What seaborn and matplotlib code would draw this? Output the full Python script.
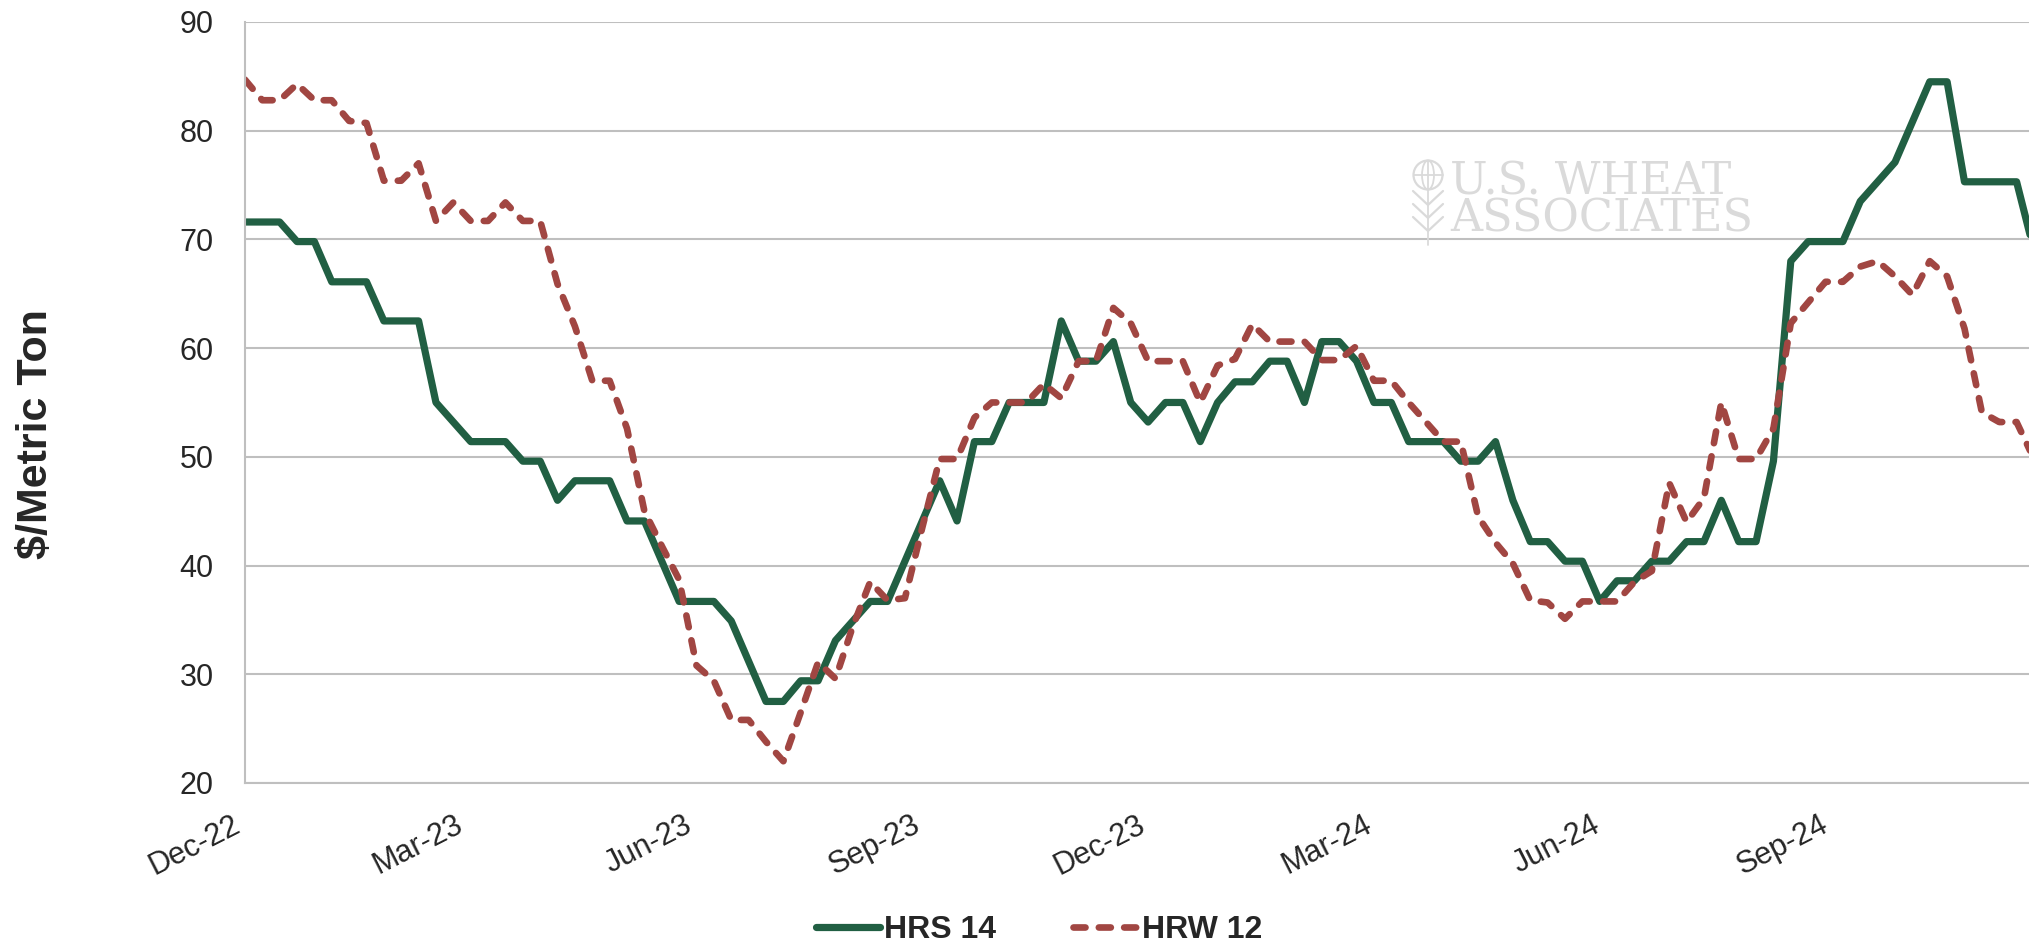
import pandas as pd
import matplotlib
matplotlib.use("Agg")
import matplotlib.pyplot as plt
import matplotlib.dates as mdates
from matplotlib.patches import Circle, Ellipse
from matplotlib.lines import Line2D
import seaborn as sns

# weekly basis values, first week = 1 Dec 2022
start_date = "2022-12-01"

hrs_14 = [71.6, 71.6, 71.6, 69.8, 69.8, 66.1, 66.1, 66.1, 62.5, 62.5,
          62.5, 55.0, 53.2, 51.4, 51.4, 51.4, 49.6, 49.6, 46.0, 47.8,
          47.8, 47.8, 44.1, 44.1, 40.4, 36.7, 36.7, 36.7, 34.9, 31.2,
          27.5, 27.5, 29.4, 29.4, 33.1, 34.9, 36.7, 36.7, 40.4, 44.1,
          47.8, 44.1, 51.4, 51.4, 55.0, 55.0, 55.0, 62.5, 58.8, 58.8,
          60.6, 55.0, 53.2, 55.0, 55.0, 51.4, 55.0, 56.9, 56.9, 58.8,
          58.8, 55.0, 60.6, 60.6, 58.8, 55.0, 55.0, 51.4, 51.4, 51.4,
          49.6, 49.6, 51.4, 46.0, 42.2, 42.2, 40.4, 40.4, 36.7, 38.6,
          38.6, 40.4, 40.4, 42.2, 42.2, 46.0, 42.2, 42.2, 49.6, 68.0,
          69.8, 69.8, 69.8, 73.5, 75.3, 77.1, 80.8, 84.5, 84.5, 75.3,
          75.3, 75.3, 75.3, 69.0]

hrw_12 = [84.7, 82.8, 82.8, 84.3, 82.8, 82.8, 80.9, 80.7, 75.4, 75.4,
          77.0, 71.7, 73.4, 71.7, 71.7, 73.4, 71.7, 71.7, 65.9, 62.0,
          57.0, 57.0, 52.6, 45.0, 41.8, 38.7, 30.8, 29.4, 25.8, 25.8,
          23.8, 22.0, 26.5, 31.1, 29.6, 34.4, 38.5, 36.8, 37.0, 43.5,
          49.8, 49.8, 53.6, 55.0, 55.0, 55.0, 56.7, 55.4, 58.8, 58.8,
          63.7, 62.3, 58.8, 58.8, 58.8, 55.0, 58.4, 59.0, 62.2, 60.6,
          60.6, 60.6, 58.9, 58.9, 60.2, 57.0, 57.0, 55.0, 53.2, 51.4,
          51.4, 44.5, 42.1, 40.2, 36.8, 36.6, 35.1, 36.7, 36.7, 36.7,
          38.5, 39.5, 47.6, 44.0, 46.2, 55.0, 49.8, 49.8, 52.6, 62.3,
          64.2, 66.1, 66.1, 67.5, 68.0, 66.6, 64.9, 68.0, 66.6, 61.8,
          54.1, 53.2, 53.2, 49.8]

series_names = ["HRS 14", "HRW 12"]
y_ticks = [20, 30, 40, 50, 60, 70, 80, 90]

weeks = pd.date_range(start_date, periods=len(hrs_14), freq="7D")
df = pd.DataFrame({"week": weeks, series_names[0]: hrs_14, series_names[1]: hrw_12})

green = "#215F43"
red = "#A14642"
grid_grey = "#BFBFBF"

sns.set_style("white")
plt.rcParams["font.family"] = ["Liberation Sans", "DejaVu Sans"]
narrow = ["Liberation Sans Narrow", "Liberation Sans", "DejaVu Sans"]

fig = plt.figure(figsize=(20.29, 9.47), dpi=100)
ax = fig.add_axes([0.1207, 0.1732, 0.8793, 0.8036])

sns.lineplot(data=df, x="week", y=series_names[0], ax=ax, color=green,
             linewidth=5.2, solid_joinstyle="round", solid_capstyle="round",
             label=series_names[0])
sns.lineplot(data=df, x="week", y=series_names[1], ax=ax, color=red,
             linewidth=4.8, linestyle=(0, (1.8, 2.0)), dash_capstyle="round",
             dash_joinstyle="round", label=series_names[1])

ax.set_ylim(20, 90)
ax.set_yticks(y_ticks)
ax.set_xlim(weeks[0], weeks[0] + pd.Timedelta(days=719))
ax.xaxis.set_major_locator(mdates.MonthLocator(bymonth=[3, 6, 9, 12]))
ax.xaxis.set_major_formatter(mdates.DateFormatter("%b-%y"))
ax.set_xlabel("")
ax.set_ylabel("")

ax.grid(axis="y", color=grid_grey, linewidth=1.5)
ax.grid(axis="x", visible=False)
ax.set_axisbelow(True)
for side in ["top", "right"]:
    ax.spines[side].set_visible(False)
for side in ["left", "bottom"]:
    ax.spines[side].set_color(grid_grey)
    ax.spines[side].set_linewidth(1.5)

ax.tick_params(axis="both", direction="out", length=7.5, width=1.5, color=grid_grey)
ax.tick_params(axis="y", pad=15, labelsize=22)
ax.tick_params(axis="x", pad=12, labelsize=22)
for lbl in ax.get_yticklabels():
    lbl.set_family(narrow)
for lbl in ax.get_xticklabels():
    lbl.set_rotation(27)
    lbl.set_ha("right")
    lbl.set_va("top")
    lbl.set_rotation_mode("default")

# y axis title
fig.text(0.0175, 0.542, "$/Metric Ton", rotation=90, ha="center", va="center",
         fontsize=31, fontweight="bold")

# legend at the bottom
ax.legend(loc="center", bbox_to_anchor=(0.512, 0.018), bbox_transform=fig.transFigure,
          ncol=2, frameon=False, handlelength=2.0, handletextpad=0.15, columnspacing=2.4,
          prop={"family": narrow, "weight": "bold", "size": 23})

# watermark
wm = "#DADADA"
serif = ["DejaVu Serif", "Liberation Serif"]
fig.text(0.7146, 0.831, "U.S. WHEAT\nASSOCIATES", fontsize=32, color=wm, family=serif,
         ha="left", va="top", linespacing=0.82)
tr = fig.dpi_scale_trans
cx, cy = 14.28, 7.72
fig.add_artist(Circle((cx, cy), 0.145, transform=tr, fill=False, ec=wm, lw=1.6))
fig.add_artist(Ellipse((cx, cy), 0.12, 0.29, transform=tr, fill=False, ec=wm, lw=1.3))
fig.add_artist(Line2D([cx - 0.145, cx + 0.145], [cy, cy], transform=tr, color=wm, lw=1.3))
fig.add_artist(Line2D([cx, cx], [cy + 0.145, cy - 0.7], transform=tr, color=wm, lw=1.3))
for dy in [0.2, 0.33, 0.46]:
    fig.add_artist(Line2D([cx - 0.15, cx, cx + 0.15], [cy - dy + 0.04, cy - dy - 0.1, cy - dy + 0.04],
                          transform=tr, color=wm, lw=1.6))

fig.savefig("out.png", dpi=100)
